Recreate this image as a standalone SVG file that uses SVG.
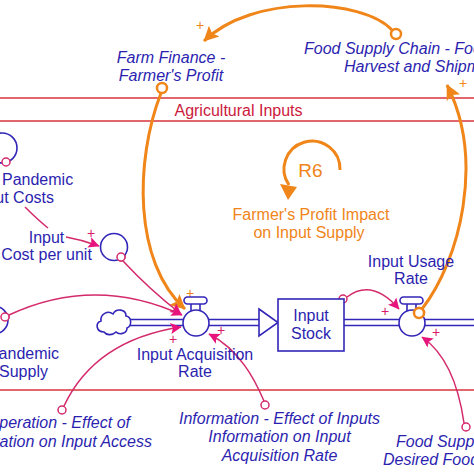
<svg xmlns="http://www.w3.org/2000/svg" width="474" height="474" viewBox="0 0 474 474">
<defs>
<style>
text{font-family:"Liberation Sans",Arial,sans-serif;font-size:16px}
.v{fill:#2c1fb0}
.i{font-style:italic}
.ot{fill:#f08519}
.pp{font-size:14px;fill:#d81b6a;text-anchor:middle}
.op{font-size:14px;fill:#f08519;text-anchor:middle}
.pk{fill:none;stroke:#d42a6c;stroke-width:1.5}
.og{fill:none;stroke:#f08519;stroke-width:3}
.pc{fill:#fff;stroke:#d42a6c;stroke-width:1.5}
.oc{fill:#fff;stroke:#f08519;stroke-width:2.5}
.bl{fill:#fff;stroke:#3326b8;stroke-width:1.6}
.pipe{stroke:#3326b8;stroke-width:1.6}
.sec{stroke:#d8343c;stroke-width:1.5}
.m{text-anchor:middle}
</style>
<marker id="ap" viewBox="0 0 10 10" refX="9.5" refY="5" markerUnits="userSpaceOnUse" markerWidth="13" markerHeight="11" orient="auto"><path d="M0,0 L10,5 L0,10 L2,5 z" fill="#e6147c"/></marker>
<marker id="ao" viewBox="0 0 10 10" refX="9.5" refY="5" markerUnits="userSpaceOnUse" markerWidth="17" markerHeight="15" orient="auto"><path d="M0,0 L10,5 L0,10 L2,5 z" fill="#f08519"/></marker>
</defs>

<g id="sector-agricultural-inputs">
<line class="sec" x1="0" y1="98" x2="474" y2="98"/>
<line class="sec" x1="0" y1="121" x2="474" y2="121"/>
<line class="sec" x1="0" y1="390" x2="474" y2="390"/>
<text x="238.5" y="116" class="m" fill="#cc1a3c">Agricultural Inputs</text>
</g>

<g id="flows">
<line class="pipe" x1="127" y1="319.5" x2="184" y2="319.5"/>
<line class="pipe" x1="127" y1="325.5" x2="184" y2="325.5"/>
<line class="pipe" x1="208" y1="319.5" x2="260" y2="319.5"/>
<line class="pipe" x1="208" y1="325.5" x2="260" y2="325.5"/>
<polygon class="bl" points="259,309 278,322.5 259,336"/>
<line class="pipe" x1="344" y1="319.5" x2="400" y2="319.5"/>
<line class="pipe" x1="344" y1="325.5" x2="400" y2="325.5"/>
<line class="pipe" x1="424" y1="319.5" x2="476" y2="319.5"/>
<line class="pipe" x1="424" y1="325.5" x2="476" y2="325.5"/>
</g>

<g id="connectors">
<path class="og" d="M392,30 C362,-2 252,-6 204,41" marker-end="url(#ao)"/>
<path class="og" d="M161,93 C135,160 133,262 185,309" marker-end="url(#ao)"/>
<path class="og" d="M422,309 C460,260 485,160 447,85" marker-end="url(#ao)"/>
<path class="pk" d="M25,207 Q38,220 48,228"/>
<path class="pk" d="M66,237 Q83,240 99,246" marker-end="url(#ap)"/>
<path class="pk" d="M123,261 Q150,290 181,314" marker-end="url(#ap)"/>
<path class="pk" d="M9,315 Q95,275 182,315" marker-end="url(#ap)"/>
<path class="pk" d="M64,406 Q95,340 181,327" marker-end="url(#ap)"/>
<path class="pk" d="M264,401 C255,380 240,350 209,334" marker-end="url(#ap)"/>
<path class="pk" d="M347,297 Q372,278 399,309" marker-end="url(#ap)"/>
<path class="pk" d="M464,423 Q455,360 422,337" marker-end="url(#ap)"/>
<circle class="oc" cx="162" cy="88" r="5"/>
<circle class="oc" cx="396" cy="34" r="5"/>
<circle class="oc" cx="419" cy="313" r="5"/>
<circle class="pc" cx="121" cy="257" r="4"/>
<circle class="pc" cx="5" cy="317" r="4"/>
<circle class="pc" cx="62" cy="410" r="4"/>
<circle class="pc" cx="265" cy="405" r="4"/>
<circle class="pc" cx="343" cy="299" r="4"/>
<circle class="pc" cx="466" cy="427" r="4"/>
<text class="op" x="200" y="30">+</text>
<text class="op" x="463" y="88">+</text>
<text class="op" x="190" y="298">+</text>
<text class="pp" x="91" y="238">+</text>
<text class="pp" x="173" y="344">+</text>
<text class="pp" x="221" y="335">+</text>
<text class="pp" x="385" y="316">+</text>
<text class="pp" x="436" y="337">+</text>
</g>

<g id="loop-R6">
<path d="M340,170 A28,28 0 1 0 289,185" fill="none" stroke="#f08519" stroke-width="3"/>
<polygon points="280,184 297,187 288,200" fill="#f08519"/>
<text x="310.5" y="177" class="m ot" style="font-size:19px">R6</text>
<text x="311" y="220" class="m ot">Farmer's Profit Impact</text>
<text x="309" y="238" class="m ot">on Input Supply</text>
</g>

<g id="farm-finance">
<text x="171" y="63" class="v i m">Farm Finance -</text>
<text x="171" y="81" class="v i m">Farmer's Profit</text>
</g>

<g id="food-supply-chain">
<text x="304" y="54" class="v i">Food Supply Chain - Food</text>
<text x="344" y="72" class="v i">Harvest and Shipment</text>
</g>

<g id="pandemic-input-costs">
<circle class="bl" cx="2" cy="148" r="15"/>
<circle class="pc" cx="6" cy="162" r="4"/>
<text x="2" y="185" class="v">Pandemic</text>
<text x="54" y="203" class="v" text-anchor="end">Input Costs</text>
</g>

<g id="input-cost-per-unit">
<circle class="bl" cx="114" cy="247" r="13.5"/>
<circle class="pc" cx="121" cy="257" r="4"/>
<text x="46.5" y="243" class="v m">Input</text>
<text x="46.5" y="260" class="v m">Cost per unit</text>
</g>

<g id="pandemic-supply">
<circle class="bl" cx="-6" cy="320" r="14"/>
<circle class="pc" cx="5" cy="317" r="4"/>
<text x="23.5" y="359" class="v m">Pandemic</text>
<text x="23.5" y="377" class="v m">Supply</text>
</g>

<g id="source-cloud">
<path class="bl" d="M104,332 C96,332 95,323 101,321 C100,314 108,310 113,314 C116,308 126,309 126,316 C132,317 132,326 127,328 C127,334 119,335 116,332 C112,336 106,335 104,332 Z"/>
</g>

<g id="input-acquisition-rate">
<rect class="bl" x="191" y="303" width="9" height="8"/>
<rect class="bl" x="184" y="297" width="23" height="7" rx="3.5"/>
<circle class="bl" cx="196" cy="323" r="13"/>
<text x="195" y="360" class="v m">Input Acquisition</text>
<text x="195" y="377" class="v m">Rate</text>
</g>

<g id="input-stock">
<rect class="bl" x="278" y="299" width="66" height="52"/>
<text x="311" y="321" class="v m">Input</text>
<text x="311" y="339" class="v m">Stock</text>
</g>

<g id="input-usage-rate">
<rect class="bl" x="407" y="303" width="9" height="8"/>
<rect class="bl" x="400" y="297" width="23" height="7" rx="3.5"/>
<circle class="bl" cx="412" cy="323" r="13"/>
<circle class="oc" cx="419" cy="313" r="5"/>
<text x="411" y="267" class="v m">Input Usage</text>
<text x="411" y="284" class="v m">Rate</text>
</g>

<g id="cooperation-effect">
<text x="130" y="428" class="v i" text-anchor="end">Cooperation - Effect of</text>
<text x="152" y="447" class="v i" text-anchor="end">Cooperation on Input Access</text>
</g>

<g id="information-effect">
<text x="279.5" y="424" class="v i m">Information - Effect of Inputs</text>
<text x="279.5" y="442" class="v i m">Information on Input</text>
<text x="279.5" y="461" class="v i m">Acquisition Rate</text>
</g>

<g id="food-supply-desired">
<text x="396" y="447" class="v i">Food Supply</text>
<text x="383" y="465" class="v i">Desired Food</text>
</g>
</svg>
